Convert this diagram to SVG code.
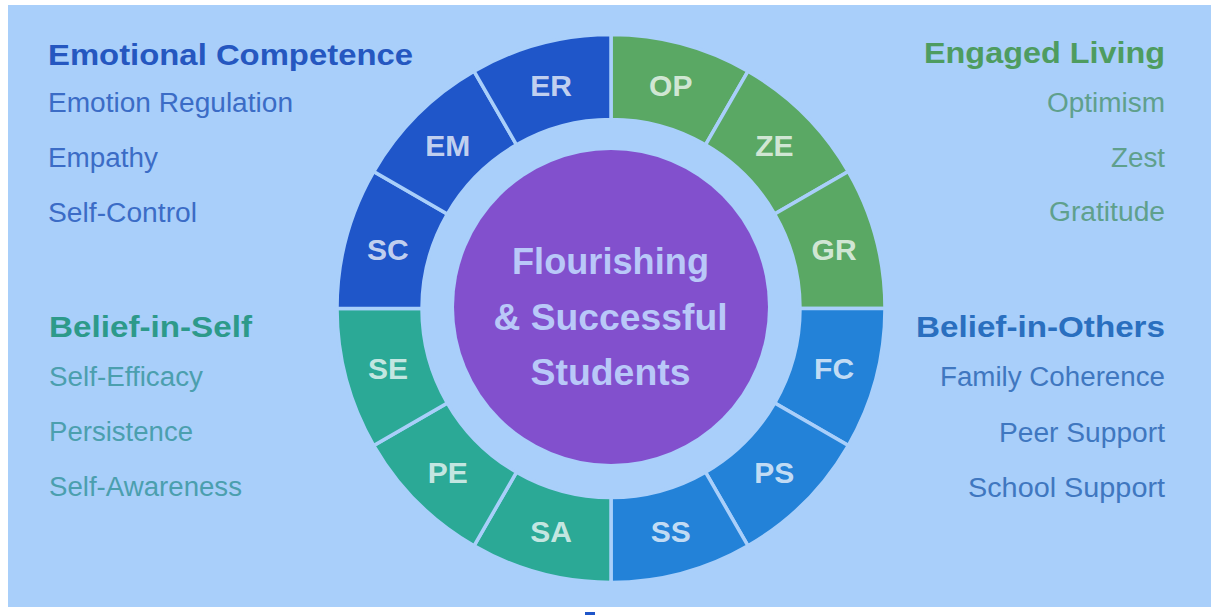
<svg xmlns="http://www.w3.org/2000/svg" width="1214" height="615" viewBox="0 0 1214 615">
<style>
.bg{fill:#a9cffa}
.seg{stroke:#a9cffa;stroke-width:3.5;stroke-linejoin:miter}
.dk{fill:#1f56c9}.gr{fill:#5aa864}.tl{fill:#2ba996}.md{fill:#2382d8}
.lab{font-family:"Liberation Sans",Arial,sans-serif;font-weight:bold;font-size:30px;fill:#ffffff;fill-opacity:0.74;text-anchor:middle}
.h{font-family:"Liberation Sans",Arial,sans-serif;font-weight:bold;font-size:30px}
.it{font-family:"Liberation Sans",Arial,sans-serif;font-size:27px}
.ctr{font-family:"Liberation Sans",Arial,sans-serif;font-weight:bold;font-size:37px;fill:#b9c8f8;text-anchor:middle}
.end{text-anchor:end}
</style>
<rect width="1214" height="615" fill="#ffffff"/>
<rect class="bg" x="8" y="5" width="1203" height="602"/>
<rect x="585" y="612" width="10" height="3" fill="#1f56c9"/>

<g id="legend-emotional-competence">
<text class="h" x="48" y="65" fill="#2557c0" textLength="365" lengthAdjust="spacingAndGlyphs">Emotional Competence</text>
<text class="it" x="48" y="112" fill="#3b6cc6" textLength="245" lengthAdjust="spacingAndGlyphs">Emotion Regulation</text>
<text class="it" x="48" y="167" fill="#3b6cc6" textLength="110" lengthAdjust="spacingAndGlyphs">Empathy</text>
<text class="it" x="48" y="222" fill="#3b6cc6" textLength="149" lengthAdjust="spacingAndGlyphs">Self-Control</text>
</g>
<g id="legend-belief-in-self">
<text class="h" x="49" y="337" fill="#2d9a8a" textLength="203" lengthAdjust="spacingAndGlyphs">Belief-in-Self</text>
<text class="it" x="49" y="386" fill="#4b9fae" textLength="154" lengthAdjust="spacingAndGlyphs">Self-Efficacy</text>
<text class="it" x="49" y="441" fill="#4b9fae" textLength="144" lengthAdjust="spacingAndGlyphs">Persistence</text>
<text class="it" x="49" y="496" fill="#4b9fae" textLength="193" lengthAdjust="spacingAndGlyphs">Self-Awareness</text>
</g>
<g id="legend-engaged-living">
<text class="h end" x="1165" y="63" fill="#4e9c60" textLength="241" lengthAdjust="spacingAndGlyphs">Engaged Living</text>
<text class="it end" x="1165" y="112" fill="#5fa08c" textLength="118" lengthAdjust="spacingAndGlyphs">Optimism</text>
<text class="it end" x="1165" y="167" fill="#5fa08c" textLength="54" lengthAdjust="spacingAndGlyphs">Zest</text>
<text class="it end" x="1165" y="221" fill="#5fa08c" textLength="116" lengthAdjust="spacingAndGlyphs">Gratitude</text>
</g>
<g id="legend-belief-in-others">
<text class="h end" x="1165" y="337" fill="#2a6fbf" textLength="249" lengthAdjust="spacingAndGlyphs">Belief-in-Others</text>
<text class="it end" x="1165" y="386" fill="#3f77c0" textLength="225" lengthAdjust="spacingAndGlyphs">Family Coherence</text>
<text class="it end" x="1165" y="442" fill="#3f77c0" textLength="166" lengthAdjust="spacingAndGlyphs">Peer Support</text>
<text class="it end" x="1165" y="497" fill="#3f77c0" textLength="197" lengthAdjust="spacingAndGlyphs">School Support</text>
</g>

<g id="seg-OP"><path class="seg gr" d="M611,34.5 A274,274 0 0 1 748,71.209 L705.5,144.821 A189,189 0 0 0 611,119.5 Z"/><text class="lab" x="670.8" y="96">OP</text></g>
<g id="seg-ZE"><path class="seg gr" d="M748,71.209 A274,274 0 0 1 848.291,171.5 L774.679,214 A189,189 0 0 0 705.5,144.821 Z"/><text class="lab" x="774.3" y="156">ZE</text></g>
<g id="seg-GR"><path class="seg gr" d="M848.291,171.5 A274,274 0 0 1 885,308.5 L800,308.5 A189,189 0 0 0 774.679,214 Z"/><text class="lab" x="834.1" y="259.5">GR</text></g>
<g id="seg-FC"><path class="seg md" d="M885,308.5 A274,274 0 0 1 848.291,445.5 L774.679,403 A189,189 0 0 0 800,308.5 Z"/><text class="lab" x="834.1" y="379">FC</text></g>
<g id="seg-PS"><path class="seg md" d="M848.291,445.5 A274,274 0 0 1 748,545.791 L705.5,472.179 A189,189 0 0 0 774.679,403 Z"/><text class="lab" x="774.3" y="482.5">PS</text></g>
<g id="seg-SS"><path class="seg md" d="M748,545.791 A274,274 0 0 1 611,582.5 L611,497.5 A189,189 0 0 0 705.5,472.179 Z"/><text class="lab" x="670.8" y="542">SS</text></g>
<g id="seg-SA"><path class="seg tl" d="M611,582.5 A274,274 0 0 1 474,545.791 L516.5,472.179 A189,189 0 0 0 611,497.5 Z"/><text class="lab" x="551.2" y="542">SA</text></g>
<g id="seg-PE"><path class="seg tl" d="M474,545.791 A274,274 0 0 1 373.709,445.5 L447.321,403 A189,189 0 0 0 516.5,472.179 Z"/><text class="lab" x="447.7" y="482.5">PE</text></g>
<g id="seg-SE"><path class="seg tl" d="M373.709,445.5 A274,274 0 0 1 337,308.5 L422,308.5 A189,189 0 0 0 447.321,403 Z"/><text class="lab" x="387.9" y="379">SE</text></g>
<g id="seg-SC"><path class="seg dk" d="M337,308.5 A274,274 0 0 1 373.709,171.5 L447.321,214 A189,189 0 0 0 422,308.5 Z"/><text class="lab" x="387.9" y="259.5">SC</text></g>
<g id="seg-EM"><path class="seg dk" d="M373.709,171.5 A274,274 0 0 1 474,71.209 L516.5,144.821 A189,189 0 0 0 447.321,214 Z"/><text class="lab" x="447.7" y="156">EM</text></g>
<g id="seg-ER"><path class="seg dk" d="M474,71.209 A274,274 0 0 1 611,34.5 L611,119.5 A189,189 0 0 0 516.5,144.821 Z"/><text class="lab" x="551.2" y="96">ER</text></g>

<g id="connectors"></g>

<g id="center">
<circle cx="611" cy="307" r="157" fill="#8250cd"/>
<text class="ctr" x="610.5" y="274" textLength="197" lengthAdjust="spacingAndGlyphs">Flourishing</text>
<text class="ctr" x="610.5" y="330" textLength="234" lengthAdjust="spacingAndGlyphs">&amp; Successful</text>
<text class="ctr" x="610.5" y="385" textLength="160" lengthAdjust="spacingAndGlyphs">Students</text>
</g>
</svg>
